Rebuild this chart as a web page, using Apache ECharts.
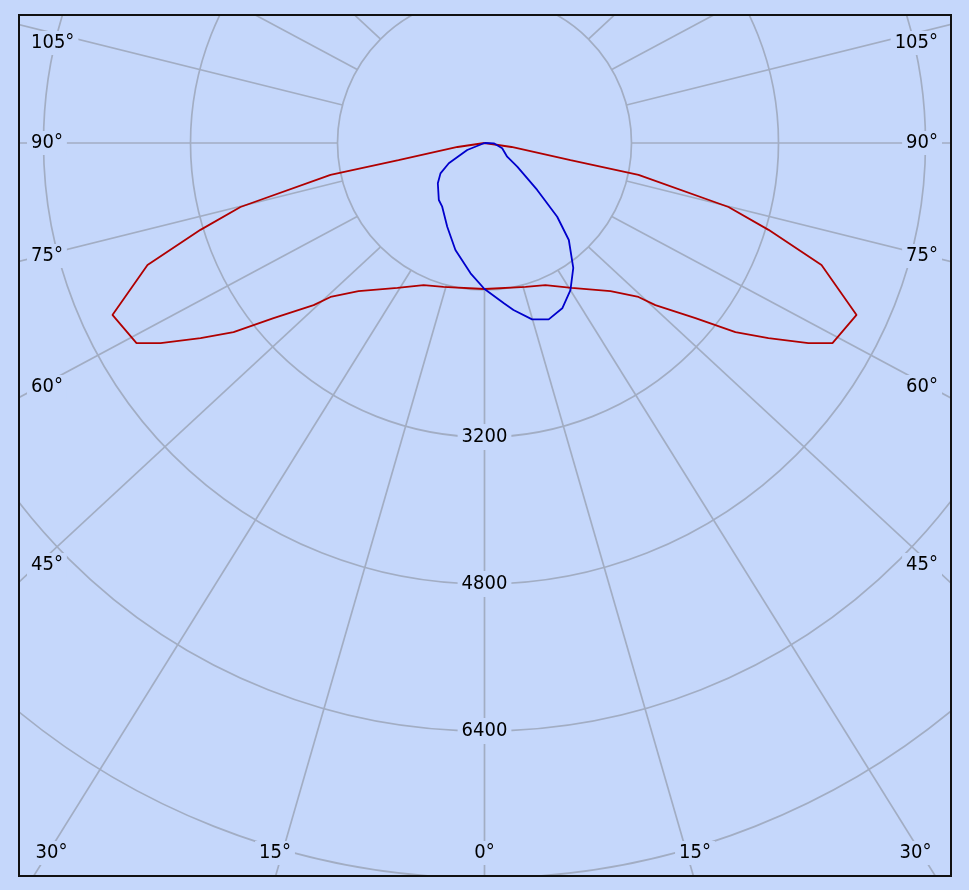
<!DOCTYPE html>
<html><head><meta charset="utf-8">
<script src="https://cdn.jsdelivr.net/npm/echarts@6/dist/echarts.min.js"></script>
<style>
html,body{margin:0;padding:0;background:#c5d7fb;width:969px;height:890px;overflow:hidden}
#frame{position:absolute;left:18px;top:14px;width:934px;height:863px;box-sizing:border-box;border:2px solid #111;overflow:hidden;background:#c5d7fb}
#chart{position:absolute;left:0;top:0;width:930px;height:859px}
</style></head><body>
<div id="frame"><div id="chart"></div></div>
<script>
// ---------------- data (gamma angle in degrees from nadir, intensity in cd) ----------------
const redGamma     = [0, 15.9, 23.2, 31.0, 40.4, 45.0, 46.5, 50.3, 53.0, 55.5, 58.3, 60.1, 65.2, 70.1, 73.0, 75.3, 78.3, 78.8, 81.6, 90];
const redIntensity = [1589, 1629, 1682, 1840, 2116, 2370, 2564, 2984, 3420, 3750, 4144, 4369, 4461, 3901, 3233, 2746, 1712, 954, 297, 0];

const blueLeftGamma     = [0, 6.1, 15.2, 24.0, 33.6, 38.7, 49.2, 55.4, 60.4, 68.0, 90];
const blueLeftIntensity = [1589, 1427, 1207, 997, 832, 795, 671, 582, 447, 203, 0];

const blueRightGamma     = [0, 6.9, 9.85, 15.1, 20.0, 25.2, 30.3, 35.4, 41.0, 44.6, 48.3, 54.1, 58.9, 73.3, 88, 90];
const blueRightIntensity = [1589, 1758, 1845, 1988, 2043, 1988, 1854, 1668, 1399, 1127, 768, 440, 288, 201, 101, 0];

const radiusTickValues = [3200, 4800, 6400];
const gridAngles = [-165, -150, -135, -120, -105, -90, -75, -60, -45, -30, -15, 0, 15, 30, 45, 60, 75, 90, 105, 120, 135, 150, 165, 180];
const sideTickLabels   = ['105°', '90°', '75°', '60°', '45°'];
const bottomTickLabels = ['30°', '15°', '0°', '15°', '30°'];

// ---------------- layout ----------------
const FONT = '20px "DejaVu Sans Condensed", "DejaVu Sans", sans-serif';
const BG = '#c5d7fb';
const GRID = '#a2adc3';
const OFF = [20, 16]; // page -> chart offset (frame content origin)
const CENTER = [484.5 - OFF[0], 143 - OFF[1]];
const PX_PER_UNIT = 147 / 1600;
const RMAX = 16000;
const SKEW = 1.07;            // outer end of radial grid lines is horizontally stretched
const OUTER = 14150;

const chart = echarts.init(document.getElementById('chart'), null, {renderer: 'canvas'});

function gridLineSeries(theta) {
  const t = theta * Math.PI / 180;
  const x = SKEW * Math.sin(t), y = Math.cos(t);
  const r = OUTER * Math.hypot(x, y);
  const a = Math.atan2(x, y) * 180 / Math.PI;
  return {
    type: 'line', coordinateSystem: 'polar', silent: true, symbol: 'none', z: 1,
    lineStyle: {color: GRID, width: 1.7}, animation: false,
    data: [[1600, theta], [r, a]]
  };
}

function closedCurve(rightG, rightI, leftG, leftI) {
  const pts = [];
  for (let i = rightG.length - 1; i >= 0; i--) pts.push([rightI[i], -rightG[i]]);
  for (let i = 1; i < leftG.length; i++) pts.push([leftI[i], leftG[i]]);
  return pts;
}

const series = gridAngles.map(gridLineSeries);
series.push({
  name: 'C0-C180', type: 'line', coordinateSystem: 'polar', symbol: 'none', z: 5, animation: false,
  lineStyle: {color: '#b00000', width: 1.8},
  data: closedCurve(redGamma, redIntensity, redGamma, redIntensity)
});
series.push({
  name: 'C90-C270', type: 'line', coordinateSystem: 'polar', symbol: 'none', z: 6, animation: false,
  lineStyle: {color: '#0000cc', width: 1.8},
  data: closedCurve(blueRightGamma, blueRightIntensity, blueLeftGamma, blueLeftIntensity)
});

chart.setOption({
  backgroundColor: BG,
  animation: false,
  polar: {center: CENTER, radius: [0, RMAX * PX_PER_UNIT]},
  angleAxis: {
    type: 'value', min: -180, max: 180, interval: 15, startAngle: 90, clockwise: true,
    axisLine: {show: false}, axisTick: {show: false}, axisLabel: {show: false}, splitLine: {show: false}
  },
  radiusAxis: {
    type: 'value', min: 0, max: RMAX, interval: 1600,
    axisLine: {show: false}, axisTick: {show: false}, axisLabel: {show: false},
    splitLine: {show: true, lineStyle: {color: GRID, width: 1.7}}
  },
  series: series
});

// ---------------- text labels ----------------
function txt(text, px, py, align) {
  return {
    type: 'text', z: 100, silent: true,
    x: px - OFF[0], y: py - OFF[1],
    style: {text: text, font: FONT, fill: '#000', align: align, verticalAlign: 'middle',
            backgroundColor: BG, padding: [2, 4]}
  };
}
const graphics = [];
radiusTickValues.forEach(v => {
  const p = chart.convertToPixel({seriesIndex: series.length - 1}, [v, 0]);
  graphics.push({
    type: 'text', z: 100, silent: true, x: p[0], y: p[1],
    style: {text: String(v), font: FONT, fill: '#000', align: 'center', verticalAlign: 'middle',
            backgroundColor: BG, padding: [3, 4]}
  });
});
const sideY = [43, 143, 256, 387, 565];
sideTickLabels.forEach((t, i) => {
  graphics.push(txt(t, 27, sideY[i], 'left'));
  graphics.push(txt(t, 942, sideY[i], 'right'));
});
const bottomX = [51.5, 275, 484.5, 695, 915.5];
bottomTickLabels.forEach((t, i) => graphics.push(txt(t, bottomX[i], 853, 'center')));
chart.setOption({graphic: graphics});
</script>
</body></html>
